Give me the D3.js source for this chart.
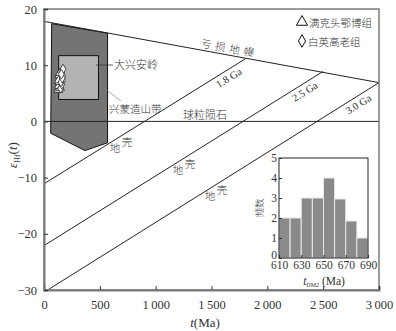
<!DOCTYPE html>
<html>
<head>
<meta charset="utf-8">
<script src="https://cdn.jsdelivr.net/npm/d3@7"></script>
<style>
  body { margin: 0; background: #fff; }
  text { font-family: "Liberation Serif", serif; }
  .cn { font-family: "Noto Sans CJK SC", sans-serif; font-weight: 300; }
</style>
</head>
<body>
<div id="chart"></div>
<script>
const width = 396;
const height = 331;

// main axes
const xTicks = [0, 500, 1000, 1500, 2000, 2500, 3000];
const yTicks = [-30, -20, -10, 0, 10, 20];

// depleted mantle and crust evolution lines (t Ma, eHf)
const dmLine = [[0, 17.8], [3000, 6.9]];
const crustLines = [
    {label: '1.8 Ga', pts: [[0, -11.1], [1800, 11.1]]},
    {label: '2.5 Ga', pts: [[0, -22.1], [2500, 8.9]]},
    {label: '3.0 Ga', pts: [[0, -30.4], [3000, 6.9]]}
];

// fields
const xingmengField = [[69, 17.4], [569, 15.7], [569, -3.8], [366, -5.2], [60, -2.1]];
const daxinganlingField = [[131, 11.7], [488, 11.7], [488, 3.9], [131, 3.9]];

// samples
const triT = [128, 132, 136, 140, 134, 146, 130, 142];
const triE = [5.6, 6.3, 7.0, 7.6, 8.2, 5.9, 7.3, 8.6];
const diaT = [150, 160, 165, 168, 158, 170, 152, 163, 155];
const diaE = [5.9, 6.6, 7.3, 8.0, 8.7, 9.3, 7.0, 7.7, 8.4];

// inset histogram
const binStart = [610, 620, 630, 640, 650, 660, 670, 680];
const binCount = [2, 2, 3, 3, 4, 2.95, 1.85, 1];
const histXTicks = [610, 630, 650, 670, 690];
const histYTicks = [0, 1, 2, 3, 4, 5];

const axisGrey = '#7a7a7a';

const svg = d3.select('#chart')
    .append('svg')
    .attr('width', width)
    .attr('height', height)
    .style('background', '#fff');

const x = d3.scaleLinear().domain([0, 3000]).range([44, 379]);
const y = d3.scaleLinear().domain([-30, 20]).range([290, 9]);

svg.append('clipPath').attr('id', 'plotClip')
    .append('rect')
    .attr('x', x(0)).attr('y', y(20))
    .attr('width', x(3000) - x(0)).attr('height', y(-30) - y(20));

const line = d3.line().x(d => x(d[0])).y(d => y(d[1]));
const onLine = (pts, t) => pts[0][1] + (pts[1][1] - pts[0][1]) * t / pts[1][0];

const plot = svg.append('g').attr('clip-path', 'url(#plotClip)');

// Xing-Meng orogenic belt field
plot.append('path')
    .attr('d', line(xingmengField) + 'Z')
    .attr('fill', '#747474')
    .attr('stroke', '#111')
    .attr('stroke-width', 1);

// Da Hinggan Ling field
plot.append('path')
    .attr('d', line(daxinganlingField) + 'Z')
    .attr('fill', '#b3b3b3')
    .attr('stroke', '#111')
    .attr('stroke-width', 1);

// chondrite
plot.append('path')
    .attr('d', line([[0, 0], [3000, 0]]))
    .attr('stroke', '#222')
    .attr('stroke-width', 1);

// DM
plot.append('path')
    .attr('d', line(dmLine))
    .attr('stroke', '#222')
    .attr('stroke-width', 1);

plot.selectAll('.crust')
    .data(crustLines)
    .enter()
    .append('path')
    .attr('class', 'crust')
    .attr('d', d => line(d.pts))
    .attr('stroke', '#222')
    .attr('stroke-width', 1);

// leader lines
svg.append('line')
    .attr('x1', 96).attr('y1', 65).attr('x2', 113).attr('y2', 65)
    .attr('stroke', '#333').attr('stroke-width', 0.8);
svg.append('line')
    .attr('x1', 104).attr('y1', 88).attr('x2', 121).attr('y2', 101)
    .attr('stroke', '#888').attr('stroke-width', 0.7);

// samples
const tri = d3.symbol().type(d3.symbolTriangle).size(30);
const dia = d3.symbol().type(d3.symbolDiamond).size(28);

svg.selectAll('.tri')
    .data(triT.map((t, i) => [t, triE[i]]))
    .enter()
    .append('path')
    .attr('class', 'tri')
    .attr('d', tri)
    .attr('transform', d => `translate(${x(d[0])},${y(d[1])})`)
    .attr('fill', '#fff')
    .attr('stroke', '#111')
    .attr('stroke-width', 0.7);

svg.selectAll('.dia')
    .data(diaT.map((t, i) => [t, diaE[i]]))
    .enter()
    .append('path')
    .attr('class', 'dia')
    .attr('d', dia)
    .attr('transform', d => `translate(${x(d[0])},${y(d[1])})`)
    .attr('fill', '#fff')
    .attr('stroke', '#111')
    .attr('stroke-width', 0.7);

// frame
svg.append('rect')
    .attr('x', x(0)).attr('y', y(20))
    .attr('width', x(3000) - x(0)).attr('height', y(-30) - y(20))
    .attr('fill', 'none')
    .attr('stroke', axisGrey)
    .attr('stroke-width', 1.5);

// axes
const fmt = d => d >= 1000 ? d3.format(',')(d).replace(',', '\u2009') : d;
const xAxis = svg.append('g')
    .attr('transform', `translate(0,${y(-30)})`)
    .call(d3.axisBottom(x).tickValues(xTicks).tickSize(-4).tickPadding(10).tickFormat(fmt));
const yAxis = svg.append('g')
    .attr('transform', `translate(${x(0)},0)`)
    .call(d3.axisLeft(y).tickValues(yTicks).tickSize(-4).tickPadding(7));

[xAxis, yAxis].forEach(a => {
    a.select('.domain').attr('stroke', axisGrey).attr('stroke-width', 2);
    a.selectAll('.tick line').attr('stroke', '#333');
    a.selectAll('text')
        .style('font-family', '"Liberation Serif", serif')
        .style('font-size', '12.5px')
        .attr('fill', '#333');
});

// axis titles
svg.append('text')
    .attr('x', 205).attr('y', 327)
    .attr('text-anchor', 'middle')
    .style('font-size', '13px')
    .attr('fill', '#333')
    .html('<tspan font-style="italic">t</tspan>(Ma)');

svg.append('text')
    .attr('transform', 'translate(17,155) rotate(-90)')
    .attr('text-anchor', 'middle')
    .style('font-size', '13px')
    .attr('fill', '#333')
    .html('<tspan font-style="italic">ε</tspan><tspan font-size="8px" dy="3">Hf</tspan><tspan dy="-3">(</tspan><tspan font-style="italic">t</tspan>)');

// labels
const cnLabel = (txt, px, py, size, rot) => svg.append('text')
    .attr('class', 'cn')
    .attr('transform', `translate(${px},${py}) rotate(${rot || 0})`)
    .style('font-size', size + 'px')
    .attr('fill', '#333')
    .text(txt);

cnLabel('大兴安岭', 114, 69, 11);
cnLabel('兴蒙造山带', 109, 113, 10.5);
cnLabel('球粒陨石', 183, 119, 11);

// DM label along line
const dmAngle = Math.atan2(y(dmLine[1][1]) - y(dmLine[0][1]), x(dmLine[1][0]) - x(dmLine[0][0])) * 180 / Math.PI;
svg.append('text')
    .attr('class', 'cn')
    .attr('transform', `translate(${x(1400)},${y(onLine(dmLine, 1400)) - 3}) rotate(${dmAngle})`)
    .style('font-size', '10.5px')
    .style('letter-spacing', '4px')
    .attr('fill', '#333')
    .text('亏损地幔');

// Ga labels along crust lines
const gaPos = [1620, 2300, 2780];
crustLines.forEach((c, i) => {
    const [p0, p1] = c.pts;
    const ang = Math.atan2(y(p1[1]) - y(p0[1]), x(p1[0]) - x(p0[0])) * 180 / Math.PI;
    svg.append('text')
        .attr('transform', `translate(${x(gaPos[i])},${y(onLine(c.pts, gaPos[i]))}) rotate(${ang}) translate(0,11)`)
        .attr('text-anchor', 'middle')
        .style('font-size', '10.5px')
        .attr('fill', '#333')
        .text(c.label);
});

// crust labels
const crustLabelT = [636, 1200, 1486];
crustLines.forEach((c, i) => {
    const t = crustLabelT[i];
    svg.append('text')
        .attr('class', 'cn')
        .attr('x', x(t)).attr('y', y(onLine(c.pts, t)) + 12)
        .attr('text-anchor', 'middle')
        .style('font-size', '10.5px')
        .attr('fill', '#333')
        .text('地');
    svg.append('text')
        .attr('class', 'cn')
        .attr('x', x(t) + 12).attr('y', y(onLine(c.pts, t + 107)) + 13.5)
        .attr('text-anchor', 'middle')
        .style('font-size', '10.5px')
        .attr('fill', '#333')
        .text('壳');
});

// legend
const legend = svg.append('g');
legend.append('path')
    .attr('d', d3.symbol().type(d3.symbolTriangle).size(55))
    .attr('transform', 'translate(302,22)')
    .attr('fill', '#fff').attr('stroke', '#111').attr('stroke-width', 1);
legend.append('path')
    .attr('d', d3.symbol().type(d3.symbolDiamond).size(45))
    .attr('transform', 'translate(302,41)')
    .attr('fill', '#fff').attr('stroke', '#111').attr('stroke-width', 1);
cnLabel('满克头鄂博组', 309, 27, 10.5);
cnLabel('白英高老组', 308, 46, 10.5);

// inset histogram
const xi = d3.scaleLinear().domain([610, 690]).range([279, 368]);
const yi = d3.scaleLinear().domain([0, 5]).range([258, 158]);

const inset = svg.append('g');
inset.append('rect')
    .attr('x', xi(610)).attr('y', yi(5))
    .attr('width', xi(690) - xi(610)).attr('height', yi(0) - yi(5))
    .attr('fill', '#fff');

inset.selectAll('.bar')
    .data(binStart.map((b, i) => [b, binCount[i]]))
    .enter()
    .append('rect')
    .attr('class', 'bar')
    .attr('x', d => xi(d[0]))
    .attr('y', d => yi(d[1]))
    .attr('width', d => xi(d[0] + 10) - xi(d[0]))
    .attr('height', d => yi(0) - yi(d[1]))
    .attr('fill', '#8a8a8a')
    .attr('stroke', '#e8e8e8')
    .attr('stroke-width', 1);

inset.append('rect')
    .attr('x', xi(610)).attr('y', yi(5))
    .attr('width', xi(690) - xi(610)).attr('height', yi(0) - yi(5))
    .attr('fill', 'none')
    .attr('stroke', '#222')
    .attr('stroke-width', 1);

const hx = inset.append('g')
    .attr('transform', `translate(0,${yi(0)})`)
    .call(d3.axisBottom(xi).tickValues(histXTicks).tickSize(-3).tickPadding(3).tickFormat(d3.format('d')));
const hy = inset.append('g')
    .attr('transform', `translate(${xi(610)},0)`)
    .call(d3.axisLeft(yi).tickValues(histYTicks).tickSize(-3).tickPadding(2).tickFormat(d3.format('d')));
[hx, hy].forEach(a => {
    a.select('.domain').remove();
    a.selectAll('.tick line').attr('stroke', '#333');
    a.selectAll('text')
        .style('font-family', '"Liberation Serif", serif')
        .style('font-size', '11.5px')
        .attr('fill', '#333');
});
hy.selectAll('.tick text').filter(d => d === 0).attr('dy', '0');

inset.append('text')
    .attr('x', 324).attr('y', 285)
    .attr('text-anchor', 'middle')
    .style('font-size', '11.5px')
    .attr('fill', '#333')
    .html('<tspan font-style="italic">t</tspan><tspan font-size="6px" dy="2">DM2</tspan><tspan dy="-2"> (Ma)</tspan>');

inset.append('text')
    .attr('class', 'cn')
    .attr('transform', 'translate(263,208) rotate(-90)')
    .attr('text-anchor', 'middle')
    .style('font-size', '9.5px')
    .attr('fill', '#333')
    .text('频数');
</script>
</body>
</html>
